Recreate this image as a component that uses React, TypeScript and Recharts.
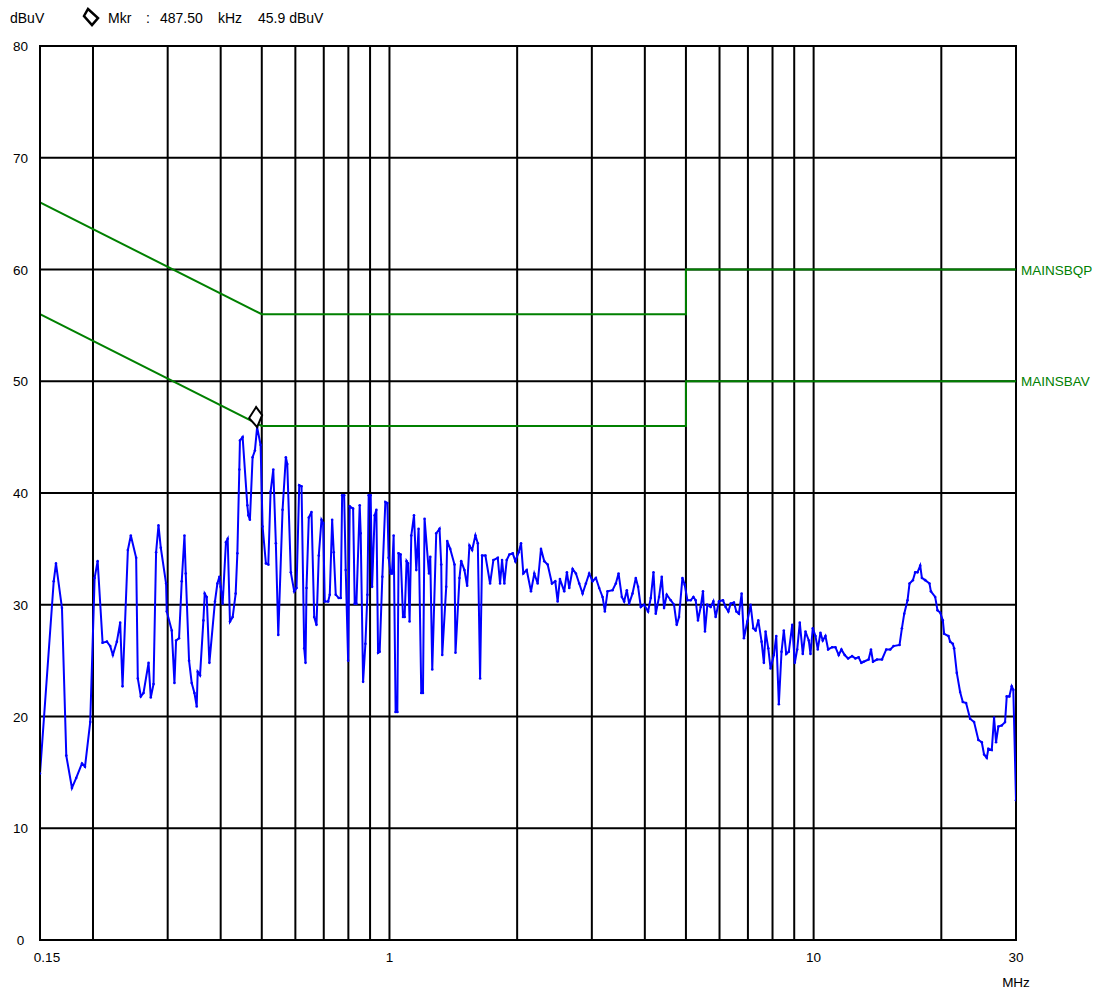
import { LineChart, Line, XAxis, YAxis, CartesianGrid, ReferenceDot, ReferenceArea } from 'recharts'

// frequency (MHz) of each measured point
const freqs = [
  0.15, 0.1616, 0.1636, 0.169, 0.173, 0.1784, 0.1826, 0.1884, 0.1915, 0.197,
  0.2018, 0.2051, 0.2107, 0.2157, 0.2196, 0.2228, 0.2277, 0.2318, 0.2348, 0.2417,
  0.2456, 0.2528, 0.2551, 0.2593, 0.2631, 0.2704, 0.2737, 0.2778, 0.2817, 0.2854,
  0.289, 0.2974, 0.2985, 0.3067, 0.3112, 0.314, 0.3191, 0.3238, 0.3286, 0.3309,
  0.3369, 0.3418, 0.3469, 0.3512, 0.3531, 0.3576, 0.3642, 0.3668, 0.3708, 0.3762,
  0.3878, 0.3929, 0.3972, 0.4, 0.4043, 0.4116, 0.4155, 0.4207, 0.4269, 0.4339,
  0.4379, 0.4426, 0.4441, 0.4506, 0.4623, 0.4648, 0.4688, 0.4757, 0.4817, 0.4875,
  0.4968, 0.5022, 0.5113, 0.518, 0.5244, 0.5322, 0.5397, 0.5468, 0.5597, 0.5698,
  0.5741, 0.5854, 0.5963, 0.6038, 0.6127, 0.6204, 0.6295, 0.634, 0.6374, 0.6454,
  0.6549, 0.6646, 0.6729, 0.6813, 0.6914, 0.6978, 0.7038, 0.7169, 0.7232, 0.7326,
  0.739, 0.7471, 0.7593, 0.7676, 0.7734, 0.7819, 0.7887, 0.799, 0.8059, 0.8209,
  0.8281, 0.8357, 0.8508, 0.8554, 0.8666, 0.8775, 0.8871, 0.8933, 0.903, 0.9099,
  0.9228, 0.9314, 0.94, 0.9482, 0.9621, 0.9779, 0.9885, 0.9955, 1.0064, 1.014,
  1.0229, 1.034, 1.0436, 1.0509, 1.0624, 1.0763, 1.0857, 1.0975, 1.1058, 1.1154,
  1.1258, 1.1424, 1.1567, 1.1712, 1.1885, 1.1995, 1.2099, 1.2391, 1.2479, 1.2615,
  1.2891, 1.3123, 1.3245, 1.3317, 1.3608, 1.3682, 1.3906, 1.4234, 1.4311, 1.4625,
  1.476, 1.5022, 1.5244, 1.5435, 1.5663, 1.5945, 1.6154, 1.6356, 1.6535, 1.6833,
  1.7267, 1.7578, 1.8002, 1.8228, 1.8426, 1.8657, 1.89, 1.9169, 1.9526, 1.9803,
  2.017, 2.0424, 2.068, 2.1065, 2.1561, 2.195, 2.2358, 2.2762, 2.3173, 2.3604,
  2.416, 2.4596, 2.4918, 2.523, 2.5824, 2.6205, 2.6534, 2.7027, 2.7515, 2.8011,
  2.8532, 2.9046, 2.957, 3.012, 3.0665, 3.1218, 3.1799, 3.2198, 3.2672, 3.3569,
  3.4176, 3.468, 3.5306, 3.5748, 3.6275, 3.6729, 3.7412, 3.8087, 3.8564, 3.9132,
  3.9839, 4.0712, 4.131, 4.1919, 4.2444, 4.321, 4.3848, 4.4397, 4.5051, 4.6038,
  4.6868, 4.7561, 4.8158, 4.9053, 4.9668, 5.04, 5.131, 5.2067, 5.272, 5.338,
  5.4167, 5.4846, 5.5443, 5.6169, 5.7182, 5.8026, 5.8755, 5.9816, 6.1127, 6.2028,
  6.2943, 6.3732, 6.4883, 6.5732, 6.6665, 6.7647, 6.8495, 6.9768, 7.1027, 7.2072,
  7.2977, 7.4052, 7.5389, 7.6334, 7.704, 7.8176, 7.9155, 8.0582, 8.1636, 8.2794,
  8.4014, 8.5067, 8.618, 8.74, 8.9027, 9.0288, 9.1472, 9.2769, 9.429, 9.568,
  9.7407, 9.8309, 9.954, 10.101, 10.227, 10.378, 10.508, 10.663, 10.82, 11.057,
  11.256, 11.459, 11.628, 11.838, 12.058, 12.322, 12.545, 12.767, 12.955, 13.118,
  13.478, 13.654, 13.803, 14.106, 14.493, 14.834, 15.159, 15.432, 15.942, 16.151,
  16.354, 16.649, 16.83, 17.143, 17.358, 17.576, 17.835, 18.0, 18.325, 18.757,
  18.9, 19.345, 19.587, 19.875, 20.168, 20.31, 20.789, 20.98, 21.29, 21.44,
  21.756, 22.149, 22.476, 22.881, 23.382, 23.895, 24.458, 24.914, 25.226, 25.598,
  25.821, 26.301, 26.631, 26.922, 27.26, 27.767, 28.268, 28.529, 28.932, 29.31,
  29.566, 30,
]

// measured level (dBuV)
const levels = [
  14.9, 32.1, 33.7, 29.7, 16.5, 13.6, 14.5, 15.8, 15.5, 19.5,
  32.4, 33.9, 26.6, 26.7, 26.3, 25.5, 26.7, 28.4, 22.7, 34.9,
  36.2, 34.2, 23.4, 21.8, 22.1, 24.8, 21.7, 22.9, 34.7, 37.1,
  35.1, 31.9, 29.4, 27.7, 23.0, 26.8, 27.0, 32.1, 36.2, 32.8,
  25.0, 23.0, 22.1, 20.9, 24.0, 23.7, 28.6, 31.0, 30.7, 24.8,
  30.3, 31.9, 32.5, 31.6, 30.1, 35.6, 35.9, 28.5, 28.9, 31.0,
  34.6, 42.1, 44.7, 45.0, 38.9, 38.0, 37.6, 43.2, 43.8, 45.9,
  44.3, 37.0, 33.7, 33.6, 40.1, 42.1, 35.5, 27.3, 38.5, 43.2,
  42.6, 32.9, 31.2, 31.5, 40.7, 40.6, 26.1, 24.8, 31.5, 37.8,
  38.3, 28.9, 28.2, 34.4, 37.6, 37.3, 30.3, 30.3, 30.9, 37.6,
  34.7, 30.9, 30.6, 30.6, 39.8, 39.8, 33.1, 25.0, 38.8, 38.6,
  30.1, 30.1, 38.9, 36.4, 23.1, 26.5, 30.9, 39.8, 39.8, 31.6,
  38.0, 38.5, 25.7, 25.8, 32.5, 39.2, 39.1, 34.2, 32.8, 32.8,
  36.2, 20.4, 20.4, 34.6, 34.5, 28.9, 28.9, 33.9, 33.7, 28.5,
  36.2, 38.0, 33.1, 36.8, 22.1, 22.1, 37.7, 32.8, 34.3, 24.2,
  36.4, 36.8, 33.6, 25.5, 31.6, 35.7, 35.0, 33.6, 25.7, 32.4,
  33.9, 33.1, 31.7, 35.3, 34.9, 36.2, 35.5, 23.4, 34.4, 34.4,
  31.9, 34.0, 34.2, 31.9, 34.0, 31.9, 34.0, 34.5, 34.6, 33.9,
  34.7, 35.5, 32.8, 33.1, 31.2, 32.8, 31.9, 35.0, 33.9, 33.6,
  31.9, 32.1, 30.3, 32.3, 31.2, 32.9, 31.5, 33.2, 32.8, 31.9,
  31.0, 31.9, 32.8, 32.1, 32.4, 31.5, 30.7, 29.4, 31.2, 31.3,
  31.9, 32.8, 30.7, 30.3, 31.3, 30.1, 31.0, 32.4, 31.6, 29.8,
  30.0, 29.4, 30.6, 32.9, 29.2, 30.7, 32.5, 29.7, 30.9, 30.4,
  30.0, 28.2, 28.9, 32.4, 31.8, 30.4, 30.4, 30.7, 30.4, 28.6,
  29.8, 31.2, 27.6, 30.0, 29.8, 30.3, 28.9, 30.3, 30.4, 29.8,
  29.4, 30.1, 30.2, 29.4, 29.2, 31.0, 27.0, 28.5, 30.0, 27.9,
  27.7, 28.6, 26.7, 24.8, 27.6, 26.1, 24.3, 25.5, 27.2, 21.1,
  25.8, 27.7, 25.6, 25.8, 28.2, 24.8, 26.0, 28.4, 25.6, 27.6,
  26.8, 25.6, 27.9, 27.2, 26.0, 27.5, 26.8, 27.2, 26.0, 26.2,
  26.2, 25.5, 26.0, 25.5, 25.2, 25.4, 25.2, 25.3, 24.8, 24.9,
  25.1, 26.0, 24.9, 25.1, 25.1, 26.0, 26.0, 26.3, 26.4, 27.9,
  29.2, 30.4, 31.9, 32.2, 32.9, 32.9, 33.5, 32.4, 32.2, 31.9,
  31.2, 30.7, 29.5, 29.3, 28.6, 27.4, 27.2, 26.7, 26.5, 26.1,
  23.9, 22.2, 21.3, 21.2, 19.8, 19.5, 17.9, 17.7, 16.6, 16.3,
  17.1, 17.0, 19.9, 17.7, 19.1, 19.2, 19.5, 21.8, 21.8, 22.7,
  22.4, 12.5,
]

// limit lines (class B mains)
const qpFreqs = [0.15, 0.5, 5, 5, 30]
const qpLevels = [66, 56, 56, 60, 60]
const avFreqs = [0.15, 0.5, 5, 5, 30]
const avLevels = [56, 46, 46, 50, 50]

const xTicks = [0.15, 0.2, 0.3, 0.4, 0.5, 0.6, 0.7, 0.8, 0.9, 1, 2, 3, 4, 5, 6, 7, 8, 9, 10, 20, 30]
const xLabels = [0.15, 1, 10, 30]
const yTicks = [0, 10, 20, 30, 40, 50, 60, 70, 80]

const markerFreq = 0.4875
const markerLevel = 45.9

const FONT = '"Liberation Sans", Arial, sans-serif'
const GREEN = '#008000'

const trace = freqs.map((f, i) => ({ f, v: levels[i] }))
const qp = qpFreqs.map((f, i) => ({ f, v: qpLevels[i] }))
const av = avFreqs.map((f, i) => ({ f, v: avLevels[i] }))

function XTick(props: any) {
  const { x, y, payload } = props
  const val = payload.value
  if (!xLabels.includes(val)) return null
  const dx = val === 0.15 ? 7 : 0
  return (
    <g>
      <text x={x + dx} y={y + 22} textAnchor="middle" fontSize={13.5} fontFamily={FONT} fill="#000">
        {String(val)}
      </text>
      {val === 30 && (
        <text x={x} y={y + 47} textAnchor="middle" fontSize={13.5} fontFamily={FONT} fill="#000">
          MHz
        </text>
      )}
    </g>
  )
}

function YTick(props: any) {
  const { x, y, payload } = props
  return (
    <text x={x - 19.5} y={y + 5} textAnchor="middle" fontSize={13.5} fontFamily={FONT} fill="#000">
      {payload.value}
    </text>
  )
}

function limitLabel(name: string, count: number) {
  return (props: any) => {
    const { x, y, index } = props
    if (index !== count - 1) return null
    return (
      <text key={name} x={x + 5} y={y + 5} fontSize={13.5} fontFamily={FONT} fill={GREEN}>
        {name}
      </text>
    )
  }
}

function MarkerShape(props: any) {
  const { cx, cy } = props
  const pts = `${cx},${cy} ${cx - 8},${cy - 9} ${cx - 1},${cy - 20} ${cx + 5},${cy - 12}`
  return <polygon points={pts} fill="#fff" stroke="#000" strokeWidth={2} />
}

export default function App() {
  return (
    <div style={{ position: 'absolute', left: 0, top: 0, width: 1109, height: 989, background: '#fff' }}>
      <svg width={400} height={40} style={{ position: 'absolute', left: 0, top: 0 }}>
        <text x={10} y={23} fontSize={14} fontFamily={FONT} fill="#000">dBuV</text>
        <polygon points="88,9 98,18 92,25 84,16" fill="#fff" stroke="#000" strokeWidth={2.5} />
        <text x={108} y={23} fontSize={14} fontFamily={FONT} fill="#000">Mkr</text>
        <text x={146} y={23} fontSize={14} fontFamily={FONT} fill="#000">:</text>
        <text x={160} y={23} fontSize={14} fontFamily={FONT} fill="#000">487.50</text>
        <text x={218} y={23} fontSize={14} fontFamily={FONT} fill="#000">kHz</text>
        <text x={258} y={23} fontSize={14} fontFamily={FONT} fill="#000">45.9 dBuV</text>
      </svg>
      <LineChart
        width={1109}
        height={989}
        margin={{ top: 46, right: 93, left: 0, bottom: 0 }}
        style={{ position: 'absolute', left: 0, top: 0 }}
      >
        <CartesianGrid stroke="#000" strokeWidth={2} />
        <XAxis
          dataKey="f"
          type="number"
          scale="log"
          domain={[0.15, 30]}
          ticks={xTicks}
          interval={0}
          allowDataOverflow
          height={49}
          tickSize={0}
          tickMargin={0}
          tickLine={false}
          axisLine={{ stroke: '#000', strokeWidth: 2 }}
          tick={<XTick />}
        />
        <YAxis
          type="number"
          domain={[0, 80]}
          ticks={yTicks}
          interval={0}
          width={40}
          tickSize={0}
          tickMargin={0}
          tickLine={false}
          axisLine={{ stroke: '#000', strokeWidth: 2 }}
          tick={<YTick />}
        />
        <ReferenceArea x1={0.15} x2={30} y1={0} y2={80} fill="none" stroke="#000" strokeWidth={2} />
        <Line
          data={qp}
          dataKey="v"
          type="linear"
          stroke={GREEN}
          strokeWidth={2}
          dot={false}
          isAnimationActive={false}
          label={limitLabel('MAINSBQP', qp.length)}
        />
        <Line
          data={av}
          dataKey="v"
          type="linear"
          stroke={GREEN}
          strokeWidth={2}
          dot={false}
          isAnimationActive={false}
          label={limitLabel('MAINSBAV', av.length)}
        />
        <Line
          data={trace}
          dataKey="v"
          type="linear"
          stroke="#0000ff"
          strokeWidth={2}
          dot={{ r: 1.3, fill: '#0000ff', stroke: 'none' }}
          isAnimationActive={false}
        />
        <ReferenceDot x={markerFreq} y={markerLevel} ifOverflow="visible" shape={<MarkerShape />} />
      </LineChart>
    </div>
  )
}
